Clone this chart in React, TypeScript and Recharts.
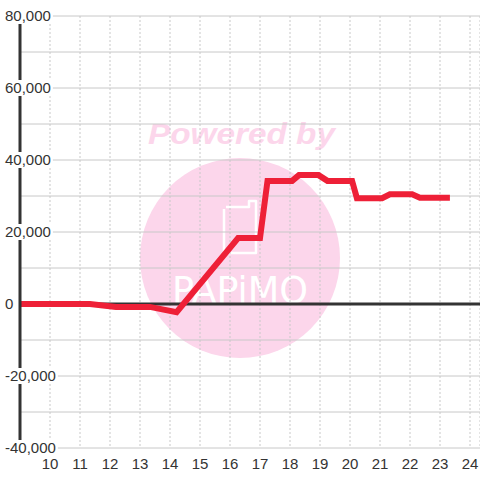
import { LineChart, Line, XAxis, YAxis, CartesianGrid, ReferenceLine } from 'recharts'

// time of day (hours) and value at each corner of the trace
const hours = [9, 11.33, 12.2, 13.33, 14.22, 16.27, 17.0, 17.25, 18.07, 18.3, 18.95, 19.25, 20.07, 20.23, 21.07, 21.33, 22.07, 22.33, 23.33]
const values = [0, 0, -800, -800, -2300, 18300, 18300, 34200, 34200, 35800, 35800, 34200, 34200, 29400, 29400, 30500, 30500, 29500, 29500]

const hourTicks = [10, 11, 12, 13, 14, 15, 16, 17, 18, 19, 20, 21, 22, 23, 24]
const valueTicks = [-40000, -30000, -20000, -10000, 0, 10000, 20000, 30000, 40000, 50000, 60000, 70000, 80000]

const data = hours.map((h, i) => ({ h, v: values[i] }))

const FONT = '"Liberation Sans", Arial, sans-serif'
const TEXT = '#333333'
const GRID = '#c8c8c8'

function textWidth(s: string, size: number) {
  let w = 0
  for (const c of s) w += c === ',' ? 0.278 : c === '-' ? 0.333 : 0.556
  return w * size
}

function YTick(props: any) {
  const { x, y, payload } = props
  if (payload.value % 20000 !== 0) return null
  const label = payload.value.toLocaleString('en-US')
  const left = x - 15
  const w = textWidth(label, 15)
  return (
    <g>
      <rect x={left - 2} y={y - 8} width={w + 4} height={16} fill="#ffffff" />
      <text x={left} y={y} dy="0.36em" textAnchor="start" fontSize={15} fill={TEXT} fontFamily={FONT}>
        {label}
      </text>
    </g>
  )
}

function XTick(props: any) {
  const { x, y, payload } = props
  return (
    <text x={x} y={y + 8} dy="0.71em" textAnchor="middle" fontSize={15} fill={TEXT} fontFamily={FONT}>
      {payload.value}
    </text>
  )
}

function Watermark() {
  return (
    <svg width={480} height={480} style={{ position: 'absolute', left: 0, top: 0 }}>
      <circle cx={240} cy={258} r={100} fill="#fcd6eb" />
      <text
        x={148} y={144} fontSize={29} fontWeight="bold" fontStyle="italic"
        fill="#fcd6eb" fontFamily={FONT} textLength={187} lengthAdjust="spacingAndGlyphs"
      >
        Powered by
      </text>
      <path d="M226 207 H249 V201 H256 V253 H224 V209" fill="none" stroke="#ffffff" strokeWidth={2.5} strokeLinejoin="round" />
      <text
        x={172} y={303} fontSize={38} fill="#ffffff" fontFamily='"DejaVu Sans Condensed", sans-serif'
        textLength={136} lengthAdjust="spacingAndGlyphs"
      >
        PAPiMO
      </text>
    </svg>
  )
}

export default function App() {
  return (
    <div style={{ position: 'absolute', left: 0, top: 0, width: 480, height: 480, background: '#ffffff' }}>
      <Watermark />
      <div style={{ position: 'absolute', left: 0, top: 0 }}>
        <LineChart width={480} height={480} data={data} margin={{ top: 16, right: 0, bottom: 0, left: 0 }}>
          <CartesianGrid horizontal vertical={false} stroke={GRID} />
          <CartesianGrid horizontal={false} vertical stroke={GRID} strokeDasharray="2 2" />
          <XAxis
            type="number"
            dataKey="h"
            domain={[9, 24 + 1 / 3]}
            ticks={hourTicks}
            allowDataOverflow
            axisLine={false}
            tickLine={false}
            tickSize={0}
            height={32}
            tick={<XTick />}
            interval={0}
          />
          <YAxis
            type="number"
            domain={[-40000, 80000]}
            ticks={valueTicks}
            width={20}
            axisLine={{ stroke: '#333333', strokeWidth: 3 }}
            tickLine={false}
            tickSize={0}
            tickMargin={0}
            tick={<YTick />}
            interval={0}
          />
          <ReferenceLine y={0} stroke="#333333" strokeWidth={3} />
          <Line
            type="linear"
            dataKey="v"
            stroke="#ee2037"
            strokeWidth={6}
            dot={false}
            activeDot={false}
            isAnimationActive={false}
          />
        </LineChart>
      </div>
    </div>
  )
}
